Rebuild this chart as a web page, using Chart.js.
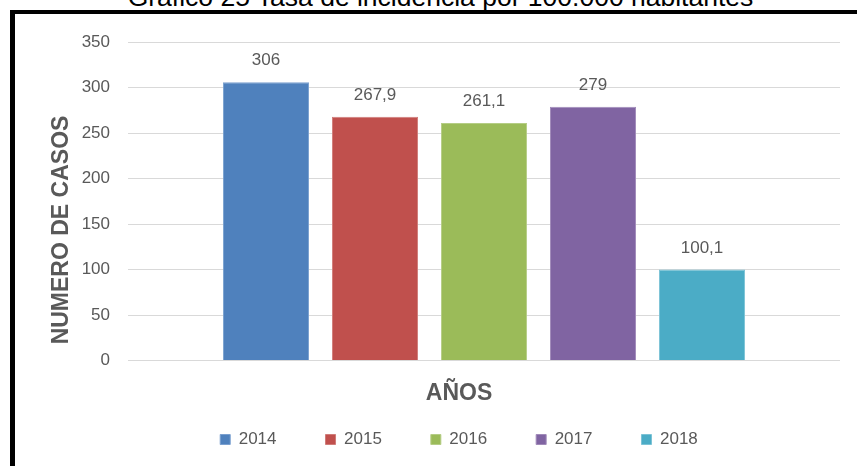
<!DOCTYPE html>
<html>
<head>
<meta charset="utf-8">
<script src="https://cdn.jsdelivr.net/npm/chart.js@4.4.1/dist/chart.umd.min.js"></script>
<style>
  html, body { margin: 0; padding: 0; background: #ffffff; overflow: hidden; width: 857px; height: 466px; }
  #title { position: absolute; left: 0; top: -16.5px; width: 881px; text-align: center;
    font-family: "Liberation Sans", Arial, sans-serif; font-size: 26.5px; line-height: 26.5px; color: #000; white-space: nowrap; }
  #frame { position: absolute; left: 10px; top: 10px; width: 900px; height: 500px;
    border-left: 5px solid #000; border-top: 4px solid #000; background: transparent; }
  #c { position: absolute; left: 0; top: 0; }
</style>
</head>
<body>
<div id="title">Gráfico 25 Tasa de incidencia por 100.000 habitantes</div>
<div id="frame"><canvas id="c" width="842" height="444"></canvas></div>
<script>
const categories = ['2014', '2015', '2016', '2017', '2018'];
const values = [306, 267.9, 261.1, 279, 100.1];
const yAxisTitle = 'NUMERO DE CASOS';
const xAxisTitle = 'AÑOS';
const chartTitle = 'Gráfico 25 Tasa de incidencia por 100.000 habitantes';
const colors = ['#4F81BD', '#C0504D', '#9BBB59', '#8064A2', '#4BACC6'];
const borderColors = ['#7aa0d0', '#d07c79', '#b5cd85', '#a08ab9', '#7cc3d6'];

const FONT = '"Liberation Sans", Arial, sans-serif';
const GREY = '#595959';

const datasets = categories.map((c, i) => ({
  label: c,
  data: [values[i]],
  backgroundColor: colors[i],
  borderColor: borderColors[i],
  borderWidth: 1,
  categoryPercentage: 0.7655,
  barPercentage: 0.79
}));

const dataLabels = {
  id: 'dataLabels',
  afterDatasetsDraw(chart) {
    const ctx = chart.ctx;
    ctx.save();
    ctx.font = '17px ' + FONT;
    ctx.fillStyle = GREY;
    ctx.textAlign = 'center';
    ctx.textBaseline = 'middle';
    chart.data.datasets.forEach((ds, i) => {
      const meta = chart.getDatasetMeta(i);
      const bar = meta.data[0];
      const txt = String(ds.data[0]).replace('.', ',');
      ctx.fillText(txt, bar.x, bar.y - 21.5);
    });
    ctx.restore();
  }
};

const yTitle = {
  id: 'yTitle',
  afterDraw(chart) {
    const ctx = chart.ctx;
    ctx.save();
    ctx.translate(46.5, 216);
    ctx.rotate(-Math.PI / 2);
    ctx.font = 'bold 23px ' + FONT;
    ctx.fillStyle = GREY;
    ctx.textAlign = 'center';
    ctx.textBaseline = 'middle';
    ctx.fillText(yAxisTitle, 0, 0);
    ctx.restore();
  }
};

new Chart(document.getElementById('c'), {
  type: 'bar',
  data: { labels: [''], datasets },
  plugins: [dataLabels, yTitle],
  options: {
    responsive: false,
    animation: false,
    layout: { padding: { left: 63, right: 17, top: 26, bottom: 0 } },
    scales: {
      x: { display: false },
      y: {
        min: 0, max: 350,
        afterFit(scale) { scale.width = 50; },
        ticks: { stepSize: 50, padding: 18, color: GREY, font: { family: FONT, size: 17 } },
        grid: { color: '#d9d9d9', lineWidth: 1, drawTicks: false },
        border: { display: false }
      }
    },
    plugins: {
      tooltip: { enabled: false },
      legend: {
        position: 'bottom',
        align: 'center',
        title: {
          display: true,
          text: xAxisTitle,
          color: GREY,
          font: { family: FONT, size: 23, weight: 'bold', lineHeight: 1 },
          padding: { top: 21.5, bottom: -23 }
        },
        labels: {
          boxWidth: 10,
          boxHeight: 10,
          padding: 49,
          color: GREY,
          font: { family: FONT, size: 17 }
        }
      }
    }
  }
});
</script>
</body>
</html>
